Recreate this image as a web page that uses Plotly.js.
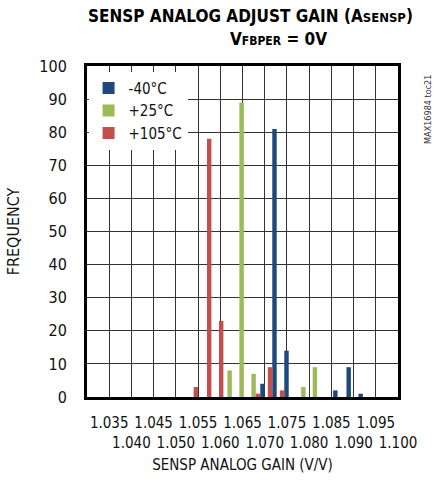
<!DOCTYPE html>
<html>
<head>
<meta charset="utf-8">
<script src="https://cdn.plot.ly/plotly-3.0.1.min.js"></script>
<style>html,body{margin:0;padding:0;background:#fff;}#chart{width:434px;height:481px;}</style>
</head>
<body>
<div id="chart"></div>
<script>
// Bin centres (V/V)
const bins = [1.0545, 1.0575, 1.0602, 1.0631, 1.0658, 1.0685, 1.0712, 1.0739, 1.0766, 1.0797, 1.0823, 1.0849, 1.0879, 1.0906];
// Frequency per bin
const freqMinus40 = [0, 0, 0, 0, 0, 4, 81, 14, 0, 0, 0, 2, 9, 1];
const freqPlus25  = [0, 0, 0, 8, 89, 7, 0, 0, 0, 3, 9, 0, 0, 0];
const freqPlus105 = [3, 78, 23, 0, 0, 1, 9, 2, 0, 0, 0, 0, 0, 0];
const seriesNames = ['-40°C', '+25°C', '+105°C'];
// Tick labels
const xTickVals = [1.035, 1.040, 1.045, 1.050, 1.055, 1.060, 1.065, 1.070, 1.075, 1.080, 1.085, 1.090, 1.095, 1.100];
const xTickText = ['1.035', ' <br>1.040', '1.045', ' <br>1.050', '1.055', ' <br>1.060', '1.065', ' <br>1.070', '1.075', ' <br>1.080', '1.085', ' <br>1.090', '1.095', ' <br>1.100'];
const yTickVals = [0, 10, 20, 30, 40, 50, 60, 70, 80, 90, 100];

const NARROW = '"DejaVu Sans Condensed", "Liberation Sans Narrow", sans-serif';
const BW = 0.001;

const traces = [
  {type: 'bar', name: seriesNames[0], x: bins, y: freqMinus40, width: BW, offset: 0.0005,
   marker: {color: '#1F497D', line: {width: 0}}},
  {type: 'bar', name: seriesNames[1], x: bins, y: freqPlus25, width: BW, offset: -0.0015,
   marker: {color: '#9BBB59', line: {width: 0}}},
  {type: 'bar', name: seriesNames[2], x: bins, y: freqPlus105, width: BW, offset: -0.0005,
   marker: {color: '#C0504D', line: {width: 0}}}
];

const layout = {
  width: 434, height: 481,
  margin: {l: 87, r: 36, t: 66, b: 84, pad: 0},
  paper_bgcolor: '#fff', plot_bgcolor: '#fff',
  barmode: 'overlay',
  showlegend: true,
  legend: {x: 0.005, y: 0.983, xanchor: 'left', yanchor: 'top', bgcolor: '#fff', borderwidth: 0,
           font: {family: NARROW, size: 15, color: '#111'}, traceorder: 'normal',
           tracegroupgap: 0, itemwidth: 30},
  font: {family: NARROW, color: '#111'},
  xaxis: {
    range: [1.030, 1.100], tickmode: 'array', tickvals: xTickVals, ticktext: xTickText,
    tickangle: 0,
    showgrid: true, gridcolor: '#333', gridwidth: 1,
    showline: true, linecolor: '#000', linewidth: 3, mirror: true,
    zeroline: false, ticks: '', ticklabelstandoff: 10,
    tickfont: {family: NARROW, size: 15, color: '#111'},
    title: {text: 'SENSP ANALOG GAIN (V/V)', font: {family: NARROW, size: 15, color: '#111'}, standoff: 9}
  },
  yaxis: {
    range: [0, 100], tickmode: 'array', tickvals: yTickVals,
    showgrid: true, gridcolor: '#333', gridwidth: 1,
    showline: true, linecolor: '#000', linewidth: 3, mirror: true,
    zeroline: false, ticks: '', ticklabelstandoff: 14,
    tickfont: {family: NARROW, size: 16, color: '#111'},
    title: {text: 'FREQUENCY', font: {family: NARROW, size: 16, color: '#111'}, standoff: 16}
  },
  annotations: [
    {xref: 'paper', yref: 'paper', x: 0.527, y: 1.151, xanchor: 'center', yanchor: 'middle', showarrow: false,
     text: '<b>SENSP ANALOG ADJUST GAIN (A<span style="font-size:13px">SENSP</span>)</b>',
     font: {family: NARROW, size: 17, color: '#000'}},
    {xref: 'paper', yref: 'paper', x: 0.617, y: 1.0816, xanchor: 'center', yanchor: 'middle', showarrow: false,
     text: '<b>V<span style="font-size:12px">FBPER</span> = 0V</b>',
     font: {family: NARROW, size: 17, color: '#000'}},
    {xref: 'paper', yref: 'paper', x: 1.096, y: 0.87, xanchor: 'center', yanchor: 'middle', showarrow: false,
     textangle: -90, text: 'MAX16984 toc21', font: {family: NARROW, size: 9, color: '#333'}}
  ]
};

Plotly.newPlot('chart', traces, layout, {staticPlot: true, displayModeBar: false});
</script>
</body>
</html>
